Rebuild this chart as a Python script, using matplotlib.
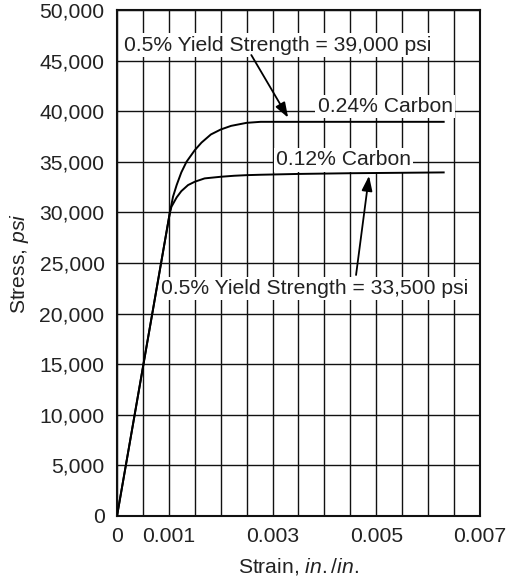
import matplotlib
matplotlib.use("Agg")
import numpy as np
import matplotlib.pyplot as plt
from matplotlib.ticker import FuncFormatter

plt.rcParams['font.family'] = ['Liberation Sans', 'DejaVu Sans']
plt.rcParams['mathtext.fontset'] = 'custom'
plt.rcParams['mathtext.rm'] = 'Liberation Sans'
plt.rcParams['mathtext.it'] = 'Liberation Sans:italic'

# 0.24% carbon steel curve (strain in./in., stress psi)
strain_024 = [0, 0.00102, 0.00108, 0.00115, 0.00124, 0.00134, 0.0015, 0.00163,
              0.00181, 0.002, 0.0022, 0.0025, 0.00277, 0.0035, 0.0063]
stress_024 = [0, 30000, 31550, 32700, 33950, 35000, 36150, 36900,
              37700, 38190, 38550, 38850, 38950, 38950, 38950]

# 0.12% carbon steel curve
strain_012 = [0, 0.00102, 0.00105, 0.00115, 0.00124, 0.00137, 0.0015, 0.00169,
              0.002, 0.00226, 0.0025, 0.00277, 0.0035, 0.0045, 0.0063]
stress_012 = [0, 30000, 30560, 31480, 32100, 32700, 33030, 33360,
              33520, 33620, 33680, 33720, 33800, 33870, 33950]

curve_labels = ["0.24% Carbon", "0.12% Carbon"]
yield_labels = ["0.5% Yield Strength = 39,000 psi", "0.5% Yield Strength = 33,500 psi"]

xtick_values = [0, 0.001, 0.003, 0.005, 0.007]
xtick_labels = ["0", "0.001", "0.003", "0.005", "0.007"]
xgrid_values = np.arange(0, 0.00701, 0.0005)
ytick_values = list(range(0, 50001, 5000))

FS = 15.2
TXT = '#222222'

fig = plt.figure(figsize=(5.07, 5.81), dpi=100)
ax = fig.add_axes([0.2308, 0.1119, 0.9467 - 0.2308, 0.9828 - 0.1119])

ax.plot(strain_024, stress_024, color='black', lw=1.4, zorder=4)
ax.plot(strain_012, stress_012, color='black', lw=1.4, zorder=4)

ax.set_xlim(0, 0.007)
ax.set_ylim(0, 50000)
ax.set_xticks(xtick_values)
ax.set_xticklabels(xtick_labels)
ax.set_xticks(xgrid_values, minor=True)
ax.set_yticks(ytick_values)
ax.yaxis.set_major_formatter(FuncFormatter(lambda v, p: f"{int(v):,}"))
ax.tick_params(which='both', length=0, labelsize=FS, colors=TXT)
ax.tick_params(axis='y', pad=9)
ax.tick_params(axis='x', pad=8)
ax.grid(which='both', color='#111111', lw=1.0, zorder=1)
ax.set_axisbelow(True)
for s in ax.spines.values():
    s.set_linewidth(1.5)
    s.set_color('#111111')

ax.set_xlabel(r"Strain, $\mathit{in./in.}$", fontsize=FS, color=TXT, labelpad=7)
ax.set_ylabel(r"Stress, $\mathit{psi}$", fontsize=FS, color=TXT, labelpad=6)

bbox = dict(facecolor='white', edgecolor='none', pad=1.5)
ax.text(0.00517, 40450, curve_labels[0], ha='center', va='center', fontsize=FS,
        color=TXT, bbox=bbox, zorder=3)
ax.text(0.00437, 35180, curve_labels[1], ha='center', va='center', fontsize=FS,
        color=TXT, bbox=bbox, zorder=3)
ax.text(0.0031, 46540, yield_labels[0], ha='center', va='center', fontsize=FS,
        color=TXT, bbox=bbox, zorder=3)
ax.text(0.00381, 22500, yield_labels[1], ha='center', va='center', fontsize=FS,
        color=TXT, bbox=bbox, zorder=3)

arrow = dict(arrowstyle='-|>,head_length=0.9,head_width=0.32', color='black', lw=1.3,
             shrinkA=0, shrinkB=0)
ax.annotate('', xy=(0.0033, 39360), xytext=(0.00259, 45550), arrowprops=arrow, zorder=5)
ax.annotate('', xy=(0.00486, 33614), xytext=(0.00461, 23815), arrowprops=arrow, zorder=5)

fig.savefig("out.png", dpi=100)
